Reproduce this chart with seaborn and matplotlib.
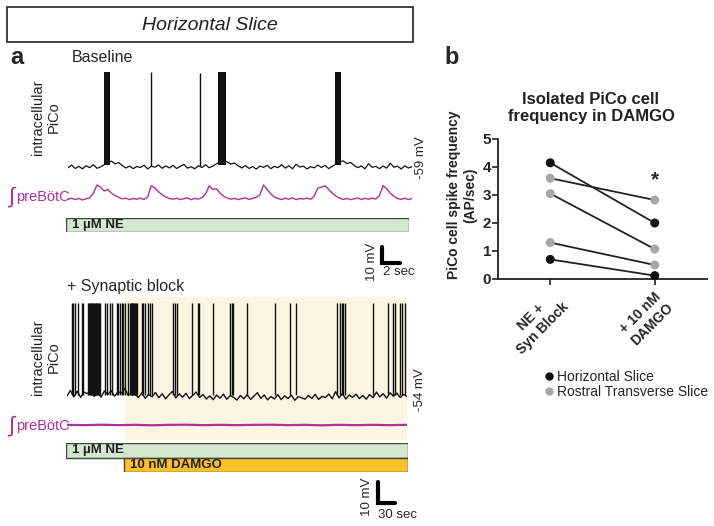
import numpy as np
import pandas as pd
import matplotlib
matplotlib.use("Agg")
import matplotlib.pyplot as plt
from matplotlib.patches import Rectangle
from matplotlib.lines import Line2D
import seaborn as sns

# ---------------- data ----------------
# baseline recording (horizontal slice), membrane potential sampled every 0.4 s
base_dt = 0.4
base_vm = [-59.5, -57.8, -59.9, -58.6, -60.1, -58.2, -59.4, -57.6, -59.8, -58.9,
           -57.5, -56.2, -55.4, -57.0, -56.3, -58.1, -59.6, -58.4, -60.0, -58.7,
           -59.3, -57.9, -60.2, -58.5, -59.1, -57.7, -59.8, -58.3, -59.6, -58.0,
           -59.9, -58.6, -57.4, -59.7, -58.8, -60.1, -58.2, -59.3, -57.6, -59.5,
           -58.4, -57.0, -55.6, -54.8, -55.9, -57.2, -56.5, -58.3, -59.6, -58.1,
           -59.9, -58.7, -60.3, -58.4, -59.2, -57.9, -60.0, -58.6, -59.4, -57.5,
           -59.7, -58.2, -60.1, -57.3, -59.0, -58.5, -60.2, -58.8, -59.5, -57.8,
           -59.3, -58.0, -60.0, -58.6, -57.1, -55.8, -55.2, -56.9, -56.1, -58.0,
           -59.4, -58.3, -60.1, -57.0, -59.2, -58.6, -60.0, -58.4, -59.7, -56.6,
           -59.1, -58.5, -60.2, -58.3, -59.6, -58.8]
base_spikes = [9.2, 14.6]
base_spike_peak = [0.0, -0.6]
base_bursts = [(4.0, 4.6), (16.6, 17.4), (29.5, 30.2)]
base_burst_peak = 0.0
# integrated preBotC activity (a.u.), same 0.4 s sampling
base_preboetc = [0.05, 0.12, 0.02, 0.10, 0.00, 0.08, 0.15, 0.45, 1.00, 0.85,
                 0.60, 0.70, 0.45, 0.30, 0.18, 0.08, 0.12, 0.02, 0.10, 0.05,
                 0.13, 0.03, 0.20, 0.95, 0.80, 0.55, 0.35, 0.20, 0.10, 0.05,
                 0.12, 0.03, 0.09, 0.14, 0.02, 0.10, 0.06, 0.15, 0.40, 0.95,
                 0.70, 0.75, 0.45, 0.25, 0.12, 0.05, 0.11, 0.02, 0.09, 0.14,
                 0.04, 0.10, 0.18, 0.35, 1.00, 0.70, 0.40, 0.20, 0.10, 0.03,
                 0.12, 0.05, 0.15, 0.02, 0.10, 0.06, 0.13, 0.04, 0.25, 0.80,
                 0.85, 0.95, 0.70, 0.45, 0.25, 0.12, 0.04, 0.10, 0.02, 0.08,
                 0.14, 0.03, 0.11, 0.05, 0.13, 0.06, 0.30, 0.95, 0.75, 0.45,
                 0.25, 0.10, 0.04, 0.12, 0.03, 0.09]

# synaptic block recording, membrane potential every 6 s
block_dt = 6.0
block_vm = [-54.5, -51.8, -54.9, -52.2, -55.1, -52.6, -53.4, -51.5, -54.7, -52.9,
            -55.0, -52.1, -53.8, -51.9, -54.6, -52.4, -53.1, -50.9, -54.2, -52.7,
            -53.6, -55.2, -53.0, -55.6, -53.7, -54.9, -52.8, -55.3, -53.4, -55.8,
            -53.9, -52.3, -55.4, -53.5, -55.0, -53.2, -55.7, -54.1, -52.6, -55.2,
            -53.8, -55.9, -54.4, -56.2, -54.0, -55.5, -53.6, -56.0, -54.3, -55.1,
            -56.4, -54.2, -55.8, -53.9, -56.1, -54.5, -52.9, -55.6, -54.0, -56.3,
            -54.7, -55.9, -53.8, -56.2, -54.4, -55.7, -54.1, -56.5, -54.8, -55.3,
            -56.0, -54.2, -55.6, -53.7, -56.1, -54.6, -55.2, -53.5, -55.8, -52.4,
            -55.4, -53.3, -55.9, -54.0, -55.1, -53.6, -55.7, -54.2, -56.0, -53.8,
            -55.3, -52.6, -54.9, -53.4, -55.5, -52.9, -54.6, -53.1, -55.2, -53.7,
            -54.8]
block_spikes = [8.8, 10.6, 14.1, 19.4, 26.5, 28.2,
                37, 38.5, 40, 41.5, 43, 44.5, 46, 47.5, 49, 50.5, 52, 53.5, 55, 56.5, 58,
                67, 70.6, 75.9, 79.4, 88.2, 90, 93.5, 97, 98.8, 102.4, 107.6,
                111, 112.5, 114, 115.5, 117, 118.5, 120, 121.5, 123,
                132.4, 134.1, 137.6, 143, 146.5, 150,
                187, 190.6, 194, 220.6, 231.2, 232.5, 257.6, 287.6, 291.2, 293,
                317.6, 367, 393.5, 404, 476.5, 481.8, 485.3, 487, 490.6,
                540, 566.5, 575.3, 578.8, 587.6, 591.2, 596.5]
block_spike_peak = -10.0
block_preboetc_dt = 30.0
block_preboetc = [0.01, -0.01, 0.02, -0.01, 0.01, -0.02, 0.01, 0.02, -0.01, 0.01,
                  -0.01, 0.01, 0.02, -0.01, 0.01, -0.02, 0.01, -0.01, 0.01, -0.01, 0.01]
rec_end = 600.0
damgo_on = 102.0

# panel b: spike frequency (AP/sec)
conditions = ["NE +\nSyn Block", "+ 10 nM\nDAMGO"]
horizontal_pre = [4.15, 0.70]
horizontal_post = [2.00, 0.12]
rostral_pre = [3.60, 3.05, 1.30]
rostral_post = [2.82, 1.07, 0.50]

# ---------------- style ----------------
sns.set_style("ticks")
plt.rcParams["font.family"] = ["Liberation Sans", "DejaVu Sans"]
MAG = "#b0309a"
NE_GREEN = "#d3e8cf"
DAMGO_ORANGE = "#fcc12a"
SHADE = "#fdf5e3"

W, H = 714, 526
fig = plt.figure(figsize=(W / 100, H / 100), dpi=100)


def px_axes(left, top, right, bottom):
    ax = fig.add_axes([left / W, 1 - bottom / H, (right - left) / W, (bottom - top) / H])
    ax.set_facecolor("none")
    ax.set_axis_off()
    return ax


def ftext(x, y, s, **kw):
    kw.setdefault("ha", "left")
    kw.setdefault("va", "center")
    fig.text(x / W, 1 - y / H, s, **kw)


# title box
fig.add_artist(Rectangle((7 / W, 1 - 42 / H), 406 / W, 35 / H, transform=fig.transFigure,
                         fill=False, lw=1.2, ec="#222222"))
ftext(210, 25, "Horizontal Slice", ha="center", fontsize=14, style="italic", color="#222222")
ftext(10, 58, "a", fontsize=17, fontweight="bold")
ftext(444, 58, "b", fontsize=17, fontweight="bold")

# ---------------- baseline recording ----------------
ftext(72, 58, "Baseline", fontsize=11.5)
ax1 = px_axes(68, 62, 412, 177)
t1 = np.arange(len(base_vm)) * base_dt
sns.lineplot(x=t1, y=base_vm, ax=ax1, color="#111111", lw=0.9, estimator=None)
for a, b in base_bursts:
    ax1.fill_between([a, b], -58.0, base_burst_peak, color="#111111", lw=0)
ax1.vlines(base_spikes, -58.5, base_spike_peak, color="#111111", lw=1.0)
ax1.set_xlim(0, 38)
ax1.set_ylim(-65.2, 6.2)
# scale bar 10 mV / 2 sec
ax1.plot([34.7, 34.7, 36.7], [-108.6, -118.6, -118.6], color="k", lw=3,
         solid_joinstyle="miter", clip_on=False)
ftext(372, 262, "10 mV", rotation=90, ha="center", fontsize=9.5)
ftext(383, 272, "2 sec", fontsize=9.5)
ftext(421, 158, "-59 mV", rotation=90, ha="center", fontsize=9.5)
ftext(46, 117, "intracellular\nPiCo", rotation=90, ha="center", fontsize=10.5,
      multialignment="center", color="#222222")

axm1 = px_axes(68, 180, 412, 206)
sns.lineplot(x=np.arange(len(base_preboetc)) * base_dt, y=base_preboetc, ax=axm1,
             color=MAG, lw=1.0, estimator=None)
axm1.set_xlim(0, 38)
axm1.set_ylim(-0.4, 1.33)
ftext(11, 197, "\u222b", ha="center", fontsize=16, color=MAG)
ftext(16, 197, "preBötC", fontsize=10.5, color=MAG)

axb1 = px_axes(66, 218, 409, 232)
axb1.barh([0], [38], left=[0], height=1.0, color=NE_GREEN, edgecolor="#444444", lw=1)
axb1.set_xlim(0, 38)
axb1.set_ylim(-0.5, 0.5)
ftext(72, 225, "1 µM NE", fontsize=9.5, fontweight="bold", color="#222222")

# ---------------- synaptic block ----------------
ftext(67, 287, "+ Synaptic block", fontsize=11.5)
ax2 = px_axes(67, 297, 407, 410)
ax2.axvspan(damgo_on, rec_end + 2, color=SHADE, lw=0, zorder=0)
t2 = np.arange(len(block_vm)) * block_dt
sns.lineplot(x=t2, y=block_vm, ax=ax2, color="#111111", lw=1.0, estimator=None)
ax2.vlines(block_spikes, -54.0, block_spike_peak, color="#111111", lw=1.0)
ax2.set_xlim(0, rec_end)
ax2.set_ylim(-61.14, -7.33)
ax2.plot([548.8, 548.8, 578.8], [-95.4, -105.4, -105.4], color="k", lw=3,
         solid_joinstyle="miter", clip_on=False)
ftext(367, 497, "10 mV", rotation=90, ha="center", fontsize=9.5)
ftext(378, 515, "30 sec", fontsize=9.5)
ftext(420, 390, "-54 mV", rotation=90, ha="center", fontsize=9.5)
ftext(46, 357, "intracellular\nPiCo", rotation=90, ha="center", fontsize=10.5,
      multialignment="center", color="#222222")

axm2 = px_axes(67, 410, 407, 440)
axm2.axvspan(damgo_on, rec_end + 2, color=SHADE, lw=0, zorder=0)
sns.lineplot(x=np.arange(len(block_preboetc)) * block_preboetc_dt, y=block_preboetc,
             ax=axm2, color=MAG, lw=1.6, estimator=None)
axm2.set_xlim(0, rec_end)
axm2.set_ylim(-1, 1)
ftext(11, 426, "\u222b", ha="center", fontsize=16, color=MAG)
ftext(16, 426, "preBötC", fontsize=10.5, color=MAG)

axb2 = px_axes(66, 443, 408, 472)
axb2.barh([1, 0], [rec_end, rec_end - damgo_on], left=[0, damgo_on], height=1.0,
          color=[NE_GREEN, DAMGO_ORANGE], edgecolor="#444444", lw=1)
axb2.set_xlim(0, rec_end)
axb2.set_ylim(-0.5, 1.5)
ftext(72, 450, "1 µM NE", fontsize=9.5, fontweight="bold", color="#222222")
ftext(130, 465, "10 nM DAMGO", fontsize=9.5, fontweight="bold", color="#222222")

# ---------------- panel b ----------------
rows = []
for i, (p, q) in enumerate(zip(horizontal_pre, horizontal_post)):
    rows += [("h%d" % i, "Horizontal Slice", 0, p), ("h%d" % i, "Horizontal Slice", 1, q)]
for i, (p, q) in enumerate(zip(rostral_pre, rostral_post)):
    rows += [("r%d" % i, "Rostral Transverse Slice", 0, p),
             ("r%d" % i, "Rostral Transverse Slice", 1, q)]
df = pd.DataFrame(rows, columns=["cell", "prep", "pos", "freq"])

axb = fig.add_axes([498 / W, 1 - 279 / H, 209 / W, 140 / H])
axb.set_facecolor("none")
sns.lineplot(data=df, x="pos", y="freq", units="cell", estimator=None, color="#222222",
             lw=1.3, ax=axb, legend=False)
palette = {"Horizontal Slice": "#111111", "Rostral Transverse Slice": "#a8a8a8"}
sns.scatterplot(data=df, x="pos", y="freq", hue="prep", palette=palette, s=42,
                edgecolor="none", zorder=3, clip_on=False, ax=axb, legend=False)
axb.set_xlim(-0.5, 1.5)
axb.set_ylim(0, 5)
axb.set_yticks(range(6))
axb.set_xticks([0, 1])
axb.set_xticklabels(conditions, rotation=45, ha="right", rotation_mode="anchor",
                    multialignment="center", fontsize=10, fontweight="bold")
for lab in axb.get_yticklabels():
    lab.set_fontweight("bold")
    lab.set_fontsize(11)
axb.tick_params(axis="both", length=4, width=1.2, color="#222222", pad=1)
axb.tick_params(axis="x", pad=3)
axb.set_xlabel("")
axb.set_ylabel("")
sns.despine(ax=axb)
for s in ("left", "bottom"):
    axb.spines[s].set_linewidth(1.3)
    axb.spines[s].set_color("#222222")
axb.text(1, 3.55, "*", ha="center", va="center", fontsize=15, fontweight="bold")
ftext(591, 108, "Isolated PiCo cell\nfrequency in DAMGO", ha="center", fontsize=12,
      fontweight="bold", multialignment="center", color="#222222")
ftext(462, 195, "PiCo cell spike frequency\n(AP/sec)", rotation=90, ha="center",
      fontsize=10, fontweight="bold", multialignment="center", color="#222222")

handles = [Line2D([], [], marker="o", ls="none", color=palette[k], markersize=5)
           for k in palette]
fig.legend(handles, list(palette), loc="center left", bbox_to_anchor=(542 / W, 1 - 384.5 / H),
           frameon=False, fontsize=10, handletextpad=0.1, handlelength=1.0,
           labelspacing=0.1, borderaxespad=0, borderpad=0)

fig.savefig("out.png", dpi=100)
